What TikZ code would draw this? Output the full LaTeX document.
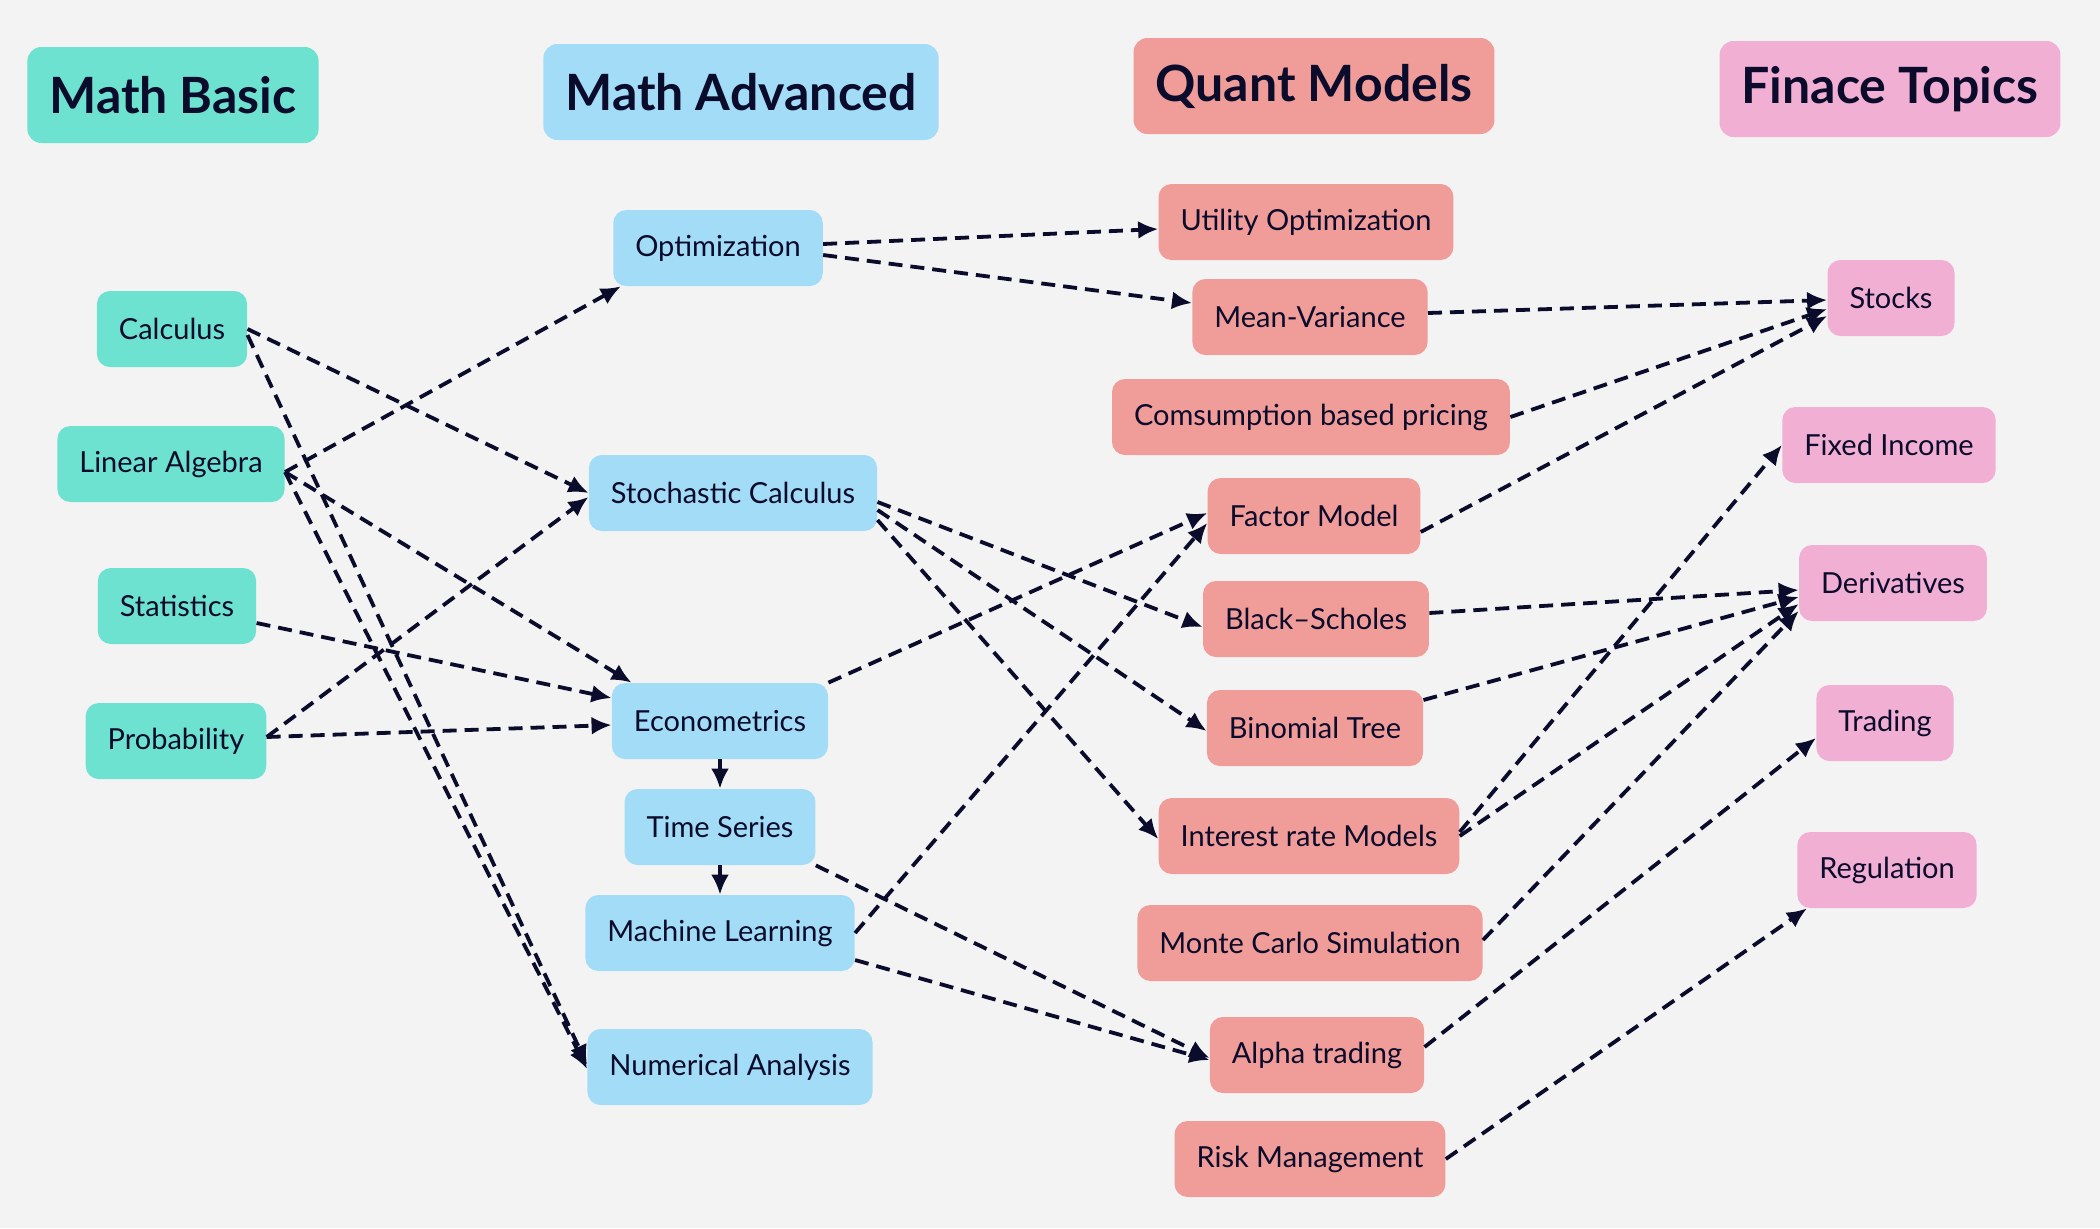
\documentclass[tikz,border=0pt]{standalone}
\usepackage{fontspec}
\setmainfont{Lato}
\usetikzlibrary{arrows.meta,positioning}
\definecolor{bgcol}{HTML}{F3F3F3}
\definecolor{inkcol}{HTML}{0B0B2B}
\definecolor{basiccol}{HTML}{6EE2D0}
\definecolor{advcol}{HTML}{A2DCF7}
\definecolor{quantcol}{HTML}{F09C98}
\definecolor{fincol}{HTML}{F1AFD3}
\tikzset{
  box/.style={rounded corners=6.5pt, minimum height=38pt, inner xsep=11pt,
    text=inkcol, font=\fontsize{14.5}{17}\selectfont},
  head/.style={rounded corners=7pt, minimum height=48pt, inner xsep=11pt,
    text=inkcol, font=\fontsize{25}{28}\selectfont\bfseries},
  basic/.style={fill=basiccol},
  adv/.style={fill=advcol},
  quant/.style={fill=quantcol},
  fin/.style={fill=fincol},
  dep/.style={-{Latex[length=10pt,width=9pt]}, draw=inkcol, line width=1.9pt,
    dash pattern=on 7pt off 4pt},
}
\begin{document}
\begin{tikzpicture}[x=0.5pt, y=-0.5pt]
  \fill[bgcol] (0,0) rectangle (2100,1228);
  \useasboundingbox (0,0) rectangle (2100,1228);
  % column heads
  \node[head, basic] (mb) at (173, 95)  {Math Basic};
  \node[head, adv]   (ma) at (741, 92)  {Math Advanced};
  \node[head, quant] (qm) at (1314, 86) {Quant Models};
  \node[head, fin]   (ft) at (1890, 89) {Finace Topics};
  % math basic
  \node[box, basic] (calc)   at (172, 329) {Calculus};
  \node[box, basic] (linalg) at (171, 464) {Linear Algebra};
  \node[box, basic] (stat)   at (177, 606) {Statistics};
  \node[box, basic] (prob)   at (176, 741) {Probability};
  % math advanced
  \node[box, adv] (opt)   at (718, 248)  {Optimization};
  \node[box, adv] (stoch) at (733, 493)  {Stochastic Calculus};
  \node[box, adv] (econ)  at (720, 721)  {Econometrics};
  \node[box, adv, node distance=53pt] (ts) [below of = econ] {Time Series};
  \node[box, adv, node distance=53pt] (ml) [below of = ts]   {Machine Learning};
  \node[box, adv] (num)   at (730, 1067) {Numerical Analysis};
  % quant models
  \node[box, quant] (util)   at (1306, 222)  {Utility Optimization};
  \node[box, quant] (mv)     at (1310, 317)  {Mean-Variance};
  \node[box, quant] (cons)   at (1311, 417)  {Comsumption based pricing};
  \node[box, quant] (factor) at (1314, 516)  {Factor Model};
  \node[box, quant] (bs)     at (1316, 619)  {Black--Scholes};
  \node[box, quant] (binom)  at (1315, 728)  {Binomial Tree};
  \node[box, quant] (irm)    at (1309, 836)  {Interest rate Models};
  \node[box, quant] (mc)     at (1310, 943)  {Monte Carlo Simulation};
  \node[box, quant] (alpha)  at (1317, 1055) {Alpha trading};
  \node[box, quant] (risk)   at (1310, 1159) {Risk Management};
  % finance topics
  \node[box, fin] (stocks)  at (1891, 298) {Stocks};
  \node[box, fin] (fixed)   at (1889, 445) {Fixed Income};
  \node[box, fin] (deriv)   at (1893, 583) {Derivatives};
  \node[box, fin] (trading) at (1885, 723) {Trading};
  \node[box, fin] (reg)     at (1887, 870) {Regulation};

  % basic -> advanced
  \draw[dep] (calc.east) -- (stoch.west);
  \draw[dep] ([yshift=-3pt]calc.east) -- ([yshift=1pt]num.west);
  \draw[dep] ([yshift=-4pt]linalg.east) -- ([xshift=4pt]opt.south west);
  \draw[dep] ([yshift=-4pt]linalg.east) -- ([xshift=10pt]econ.north west);
  \draw[dep] ([yshift=-4pt]linalg.east) -- ([yshift=-1pt]num.west);
  \draw[dep] ([yshift=-8.5pt]stat.east) -- ([yshift=11.5pt]econ.west);
  \draw[dep] ([yshift=2pt]prob.east) -- ([yshift=-2pt]stoch.west);
  \draw[dep] ([yshift=2pt]prob.east) -- ([yshift=-2pt]econ.west);
  \draw[dep] (econ.south) -- (ts.north);
  \draw[dep] (ts.south) -- (ml.north);
  % advanced -> quant
  \draw[dep] (econ.north east) -- ([yshift=1.5pt]factor.west);
  \draw[dep] (ml.east) -- ([yshift=-3.5pt]factor.west);
  \draw[dep] (ts.south east) -- ([yshift=-1.5pt]alpha.west);
  \draw[dep] ([yshift=-13.5pt]ml.east) -- ([yshift=-2.5pt]alpha.west);
  \draw[dep] ([yshift=2pt]opt.east) -- ([yshift=-3.5pt]util.west);
  \draw[dep] ([yshift=-3.5pt]opt.east) -- ([yshift=7pt]mv.west);
  \draw[dep] ([yshift=-4.5pt]stoch.east) -- ([yshift=-4pt]bs.west);
  \draw[dep] ([yshift=-8.5pt]stoch.east) -- ([yshift=-1.5pt]binom.west);
  \draw[dep] ([yshift=-13.5pt]stoch.east) -- ([yshift=-1.5pt]irm.west);
  % quant -> finance
  \draw[dep] ([yshift=2pt]mv.east) -- ([yshift=-1pt]stocks.west);
  \draw[dep] (cons.east) -- ([yshift=-5.5pt]stocks.west);
  \draw[dep] ([yshift=-8pt]factor.east) -- ([yshift=-9pt]stocks.west);
  \draw[dep] ([yshift=3pt]bs.east) -- ([yshift=-3.5pt]deriv.west);
  \draw[dep] ([yshift=14pt]binom.east) -- ([yshift=-7pt]deriv.west);
  \draw[dep] (irm.east) -- ([yshift=-10.5pt]deriv.west);
  \draw[dep] ([yshift=2pt]irm.east) -- (fixed.west);
  \draw[dep] ([yshift=1.5pt]mc.east) -- ([yshift=-14pt]deriv.west);
  \draw[dep] ([yshift=4pt]alpha.east) -- ([yshift=-7.5pt]trading.west);
  \draw[dep] (risk.east) -- ([xshift=5pt]reg.south west);
\end{tikzpicture}
\end{document}
